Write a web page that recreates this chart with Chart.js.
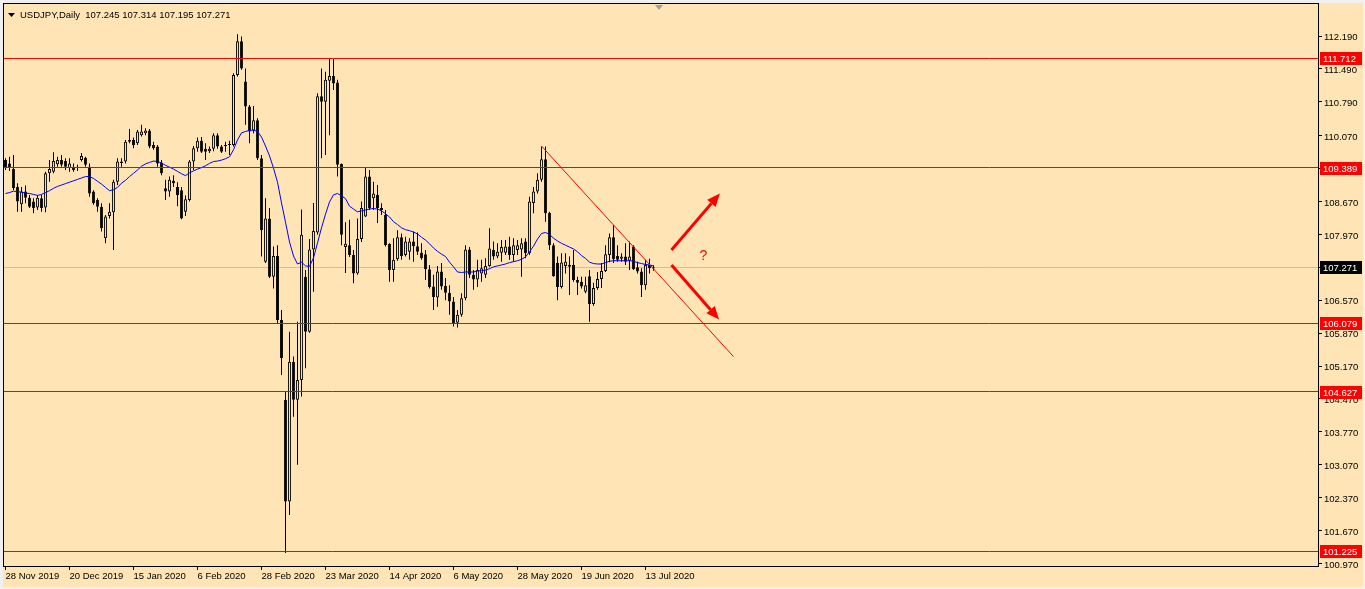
<!DOCTYPE html>
<html>
<head>
<meta charset="utf-8">
<title>USDJPY,Daily</title>
<script src="https://cdn.jsdelivr.net/npm/chart.js@4.4.1/dist/chart.umd.min.js"></script>
<style>
  html, body { margin: 0; padding: 0; background: #f0f0f0; }
  canvas { display: block; }
</style>
</head>
<body>
<canvas id="chart" width="1365" height="589"></canvas>
<script>
// daily bars, 28 Nov 2019 .. 15 Jul 2020
const opens = [
  109.55, 109.48, 109.36, 108.98, 108.61, 108.88, 108.75, 108.67, 108.54, 108.74,
  108.54, 109.27, 109.30, 109.46, 109.55, 109.53, 109.38, 109.41, 109.38, 109.55,
  109.60, 109.41, 108.88, 108.70, 108.56, 107.89, 108.36, 108.44, 109.09, 109.52,
  109.52, 109.94, 109.98, 109.91, 110.08, 110.12, 110.18, 109.87, 109.84, 109.50,
  108.95, 108.88, 109.11, 108.98, 108.91, 108.45, 108.70, 109.52, 109.80, 109.96,
  109.79, 109.74, 109.79, 110.08, 109.84, 109.87, 109.87, 109.87, 111.36, 112.08,
  111.22, 110.69, 110.18, 110.40, 109.59, 107.39, 108.31, 107.07, 107.51, 106.15,
  104.45, 102.29, 105.26, 104.45, 104.87, 107.07, 105.90, 107.65, 108.01, 110.91,
  110.79, 111.24, 111.34, 111.20, 109.47, 107.70, 107.74, 107.53, 107.14, 107.87,
  108.35, 109.20, 108.74, 108.81, 108.53, 108.38, 107.77, 107.21, 107.44, 107.91,
  107.53, 107.60, 107.82, 107.72, 107.58, 107.55, 107.23, 106.86, 106.63, 107.18,
  106.87, 106.73, 106.54, 106.09, 106.26, 106.61, 107.65, 107.11, 107.01, 107.14,
  107.11, 107.30, 107.64, 107.50, 107.58, 107.58, 107.71, 107.53, 107.64, 107.65,
  107.82, 107.57, 108.64, 108.88, 109.13, 109.57, 108.43, 107.74, 107.36, 106.85,
  107.30, 107.32, 107.32, 107.00, 106.96, 106.75, 107.08, 106.49, 106.83, 107.02,
  107.19, 107.53, 107.91, 107.51, 107.45, 107.50, 107.41, 107.71, 107.27, 107.18,
  106.89, 107.32, 107.245
];
const highs = [
  109.59, 109.62, 109.66, 109.06, 108.98, 109.01, 108.81, 108.74, 108.81, 108.81,
  109.30, 109.55, 109.72, 109.62, 109.66, 109.59, 109.59, 109.48, 109.45, 109.70,
  109.62, 109.48, 108.91, 108.74, 108.63, 108.38, 108.63, 109.13, 109.59, 109.59,
  109.98, 110.21, 110.03, 110.19, 110.30, 110.23, 110.21, 109.94, 109.87, 109.55,
  109.13, 109.20, 109.23, 109.08, 108.98, 108.80, 109.55, 109.85, 110.03, 110.04,
  109.91, 109.84, 110.12, 110.12, 109.87, 109.94, 109.96, 111.40, 112.23, 112.18,
  111.50, 110.72, 110.70, 110.44, 109.66, 108.74, 108.53, 107.71, 107.74, 106.36,
  104.62, 105.90, 105.37, 106.11, 108.50, 107.21, 107.87, 108.64, 110.97, 111.50,
  111.43, 111.70, 111.70, 111.26, 109.48, 108.23, 108.28, 107.64, 108.31, 108.67,
  109.38, 109.34, 109.09, 109.02, 108.63, 108.49, 107.78, 107.89, 108.06, 107.99,
  107.92, 107.89, 108.03, 108.01, 107.78, 107.64, 107.32, 107.11, 107.30, 107.36,
  107.04, 106.89, 106.64, 106.36, 106.72, 107.74, 107.70, 107.21, 107.43, 107.43,
  107.46, 108.10, 107.82, 107.78, 107.85, 107.85, 107.92, 107.89, 107.85, 107.89,
  107.89, 108.77, 108.98, 109.27, 109.84, 109.84, 108.45, 107.78, 107.50, 107.57,
  107.57, 107.50, 107.64, 107.07, 107.07, 107.07, 107.21, 106.94, 107.17, 107.36,
  107.74, 107.99, 108.17, 107.74, 107.57, 107.78, 107.82, 107.74, 107.39, 107.25,
  107.43, 107.45, 107.314
];
const lows = [
  109.34, 109.32, 108.91, 108.45, 108.45, 108.63, 108.53, 108.42, 108.49, 108.45,
  108.44, 109.09, 109.27, 109.41, 109.41, 109.34, 109.30, 109.30, 109.32, 109.52,
  109.41, 108.77, 108.60, 108.45, 108.03, 107.78, 108.31, 107.64, 109.02, 109.41,
  109.48, 109.91, 109.80, 109.87, 110.05, 110.08, 109.80, 109.77, 109.41, 109.23,
  108.70, 108.77, 108.98, 108.57, 108.29, 108.36, 108.67, 109.34, 109.73, 109.70,
  109.55, 109.70, 109.74, 109.79, 109.70, 109.73, 109.66, 109.84, 111.33, 111.47,
  110.30, 109.91, 110.12, 109.55, 107.50, 107.36, 107.04, 106.82, 106.08, 104.98,
  101.19, 102.00, 104.09, 103.07, 104.52, 105.12, 105.88, 106.75, 107.96, 109.59,
  109.66, 110.08, 111.04, 109.20, 107.74, 107.15, 107.49, 106.93, 107.11, 107.81,
  108.34, 108.49, 108.49, 108.21, 108.38, 107.71, 106.96, 106.96, 107.41, 107.43,
  107.50, 107.43, 107.39, 107.53, 107.43, 107.00, 106.82, 106.36, 106.43, 106.79,
  106.57, 106.26, 106.01, 105.99, 106.22, 106.57, 107.04, 106.79, 106.85, 106.96,
  107.04, 107.28, 107.43, 107.46, 107.39, 107.53, 107.43, 107.39, 107.53, 107.07,
  107.46, 107.53, 108.42, 108.84, 109.09, 108.24, 107.64, 107.07, 106.57, 106.82,
  107.14, 106.68, 106.96, 106.68, 106.82, 106.72, 106.11, 106.45, 106.79, 106.83,
  107.17, 107.38, 107.36, 107.39, 107.39, 107.32, 107.21, 107.21, 107.14, 106.64,
  106.79, 107.14, 107.195
];
const closes = [
  109.38, 109.38, 108.95, 108.67, 108.88, 108.75, 108.56, 108.53, 108.75, 108.53,
  109.27, 109.36, 109.53, 109.55, 109.45, 109.41, 109.48, 109.34, 109.39, 109.64,
  109.45, 108.84, 108.63, 108.56, 108.10, 108.35, 108.45, 109.09, 109.52, 109.49,
  109.94, 109.98, 109.87, 110.16, 110.16, 110.18, 109.84, 109.80, 109.48, 109.27,
  108.88, 109.13, 109.06, 108.81, 108.31, 108.72, 109.52, 109.80, 109.96, 109.73,
  109.73, 109.79, 110.08, 109.84, 109.73, 109.85, 109.88, 111.36, 112.08, 111.50,
  110.69, 110.16, 110.40, 109.59, 108.06, 108.31, 107.07, 107.51, 106.15, 105.34,
  102.29, 105.26, 104.45, 104.87, 107.96, 105.90, 107.65, 108.04, 110.91, 110.79,
  111.26, 111.34, 111.18, 109.45, 107.96, 107.77, 107.53, 107.14, 107.87, 108.53,
  109.20, 108.53, 108.84, 108.53, 108.49, 107.74, 107.21, 107.43, 107.91, 107.51,
  107.82, 107.82, 107.72, 107.60, 107.46, 107.23, 106.85, 106.64, 107.18, 106.86,
  106.73, 106.54, 106.08, 106.26, 106.61, 107.65, 107.11, 107.01, 107.21, 107.25,
  107.30, 107.67, 107.50, 107.60, 107.70, 107.71, 107.53, 107.74, 107.74, 107.78,
  107.57, 108.67, 108.88, 109.13, 109.57, 108.42, 107.74, 107.08, 106.85, 107.37,
  107.39, 107.28, 107.00, 106.94, 106.86, 106.89, 106.49, 106.83, 107.02, 107.19,
  107.55, 107.91, 107.44, 107.43, 107.50, 107.39, 107.50, 107.23, 107.18, 106.89,
  107.32, 107.25, 107.271
];
// moving average as drawn on the chart
const ma20 = [
  108.84, 108.86, 108.89, 108.88, 108.87, 108.85, 108.84, 108.82, 108.80, 108.82,
  108.86, 108.90, 108.95, 108.99, 109.02, 109.05, 109.08, 109.11, 109.14, 109.17,
  109.20, 109.20, 109.16, 109.10, 109.04, 108.97, 108.90, 108.92, 108.97, 109.06,
  109.12, 109.20, 109.27, 109.34, 109.42, 109.47, 109.50, 109.53, 109.52, 109.49,
  109.44, 109.40, 109.36, 109.31, 109.26, 109.22, 109.28, 109.32, 109.36, 109.39,
  109.43, 109.48, 109.52, 109.53, 109.55, 109.58, 109.62, 109.77, 109.98, 110.13,
  110.16, 110.18, 110.19, 110.16, 110.04, 109.85, 109.64, 109.38, 109.08, 108.64,
  108.23, 107.81, 107.51, 107.34, 107.38, 107.30, 107.29, 107.47, 107.79, 108.11,
  108.40, 108.66, 108.81, 108.84, 108.79, 108.73, 108.57, 108.51, 108.45, 108.47,
  108.49, 108.51, 108.52, 108.51, 108.47, 108.41, 108.34, 108.24, 108.18, 108.11,
  108.07, 108.05, 108.02, 107.98, 107.91, 107.85, 107.77, 107.68, 107.61, 107.55,
  107.50, 107.38, 107.28, 107.17, 107.16, 107.17, 107.17, 107.17, 107.19, 107.20,
  107.21, 107.24, 107.28, 107.30, 107.32, 107.34, 107.37, 107.39, 107.41, 107.44,
  107.49, 107.60, 107.72, 107.87, 107.99, 108.01, 107.97, 107.89, 107.83, 107.78,
  107.74, 107.70, 107.66, 107.60, 107.52, 107.46, 107.38, 107.35, 107.34, 107.34,
  107.37, 107.40, 107.41, 107.41, 107.41, 107.41, 107.41, 107.40, 107.37, 107.35,
  107.33, 107.32, 107.30
];

const symbol = "USDJPY";
const levels = [111.712, 109.389, 106.079, 104.627, 101.225];
const bidPrice = 107.271;
const yTickValues = [112.19, 111.49, 110.79, 110.07, 109.37, 108.67, 107.97, 107.27,
  106.57, 105.87, 105.17, 104.47, 103.77, 103.07, 102.37, 101.67, 100.97];
const xTickBars = [0, 16, 32, 48, 64, 80, 96, 112, 128, 144, 160];
const xTickLabels = ["28 Nov 2019", "20 Dec 2019", "15 Jan 2020", "6 Feb 2020", "28 Feb 2020",
  "23 Mar 2020", "14 Apr 2020", "6 May 2020", "28 May 2020", "19 Jun 2020", "13 Jul 2020"];

// drawn objects: [bar index, price]
const trendLine = [[134, 109.85], [182, 105.37]];
const arrows = [
  [[166.5, 107.64], [178.6, 108.84]],
  [[166.5, 107.32], [178.4, 106.16]]
];
const questionMark = [174.5, 107.50];

const BG = "#ffe4b5";
const FONT = "Liberation Sans, Arial, sans-serif";
const FONT_SIZE = 9.5;

const wicks = lows.map((l, i) => ({ x: i, y: [l, highs[i]] }));
const bodies = opens.map((o, i) => ({ x: i, y: [Math.min(o, closes[i]), Math.max(o, closes[i])] }));
const isUp = (i) => closes[i] >= opens[i];

function drawArrow(ctx, x1, y1, x2, y2) {
    const a = Math.atan2(y2 - y1, x2 - x1);
    const head = 13, half = 5.5;
    const bx = x2 - head * Math.cos(a), by = y2 - head * Math.sin(a);
    ctx.lineWidth = 3;
    ctx.beginPath();
    ctx.moveTo(x1, y1);
    ctx.lineTo(bx, by);
    ctx.stroke();
    ctx.beginPath();
    ctx.moveTo(x2, y2);
    ctx.lineTo(bx + half * Math.sin(a), by - half * Math.cos(a));
    ctx.lineTo(bx - half * Math.sin(a), by + half * Math.cos(a));
    ctx.closePath();
    ctx.fill();
}

const mt4Look = {
    id: "mt4Look",
    beforeDraw(chart) {
        const { ctx, width, height } = chart;
        ctx.save();
        ctx.fillStyle = "#f0f0f0";
        ctx.fillRect(0, 0, width, height);
        ctx.fillStyle = BG;
        ctx.fillRect(3, 3, width - 5, height - 5);
        ctx.restore();
    },
    beforeDatasetsDraw(chart) {
        const { ctx, chartArea } = chart;
        const y = Math.floor(chart.scales.y.getPixelForValue(bidPrice)) + 0.5;
        ctx.save();
        ctx.strokeStyle = "#c0c0c0";
        ctx.lineWidth = 1;
        ctx.beginPath();
        ctx.moveTo(chartArea.left, y);
        ctx.lineTo(chartArea.right, y);
        ctx.stroke();
        ctx.restore();
    },
    afterDatasetsDraw(chart) {
        const { ctx, chartArea } = chart;
        const xs = chart.scales.x, ys = chart.scales.y;
        ctx.save();
        ctx.beginPath();
        ctx.rect(chartArea.left, chartArea.top, chartArea.right - chartArea.left, chartArea.bottom - chartArea.top);
        ctx.clip();

        ctx.strokeStyle = "#ff0000";
        ctx.fillStyle = "#ff0000";
        ctx.lineWidth = 1;
        levels.forEach((v) => {
            const y = Math.floor(ys.getPixelForValue(v)) + 0.5;
            ctx.beginPath();
            ctx.moveTo(chartArea.left, y);
            ctx.lineTo(chartArea.right, y);
            ctx.stroke();
        });

        ctx.beginPath();
        ctx.moveTo(xs.getPixelForValue(trendLine[0][0]), ys.getPixelForValue(trendLine[0][1]));
        ctx.lineTo(xs.getPixelForValue(trendLine[1][0]), ys.getPixelForValue(trendLine[1][1]));
        ctx.stroke();

        arrows.forEach(([a, b]) => {
            drawArrow(ctx, xs.getPixelForValue(a[0]), ys.getPixelForValue(a[1]),
                xs.getPixelForValue(b[0]), ys.getPixelForValue(b[1]));
        });

        ctx.font = "14px " + FONT;
        ctx.textAlign = "center";
        ctx.textBaseline = "middle";
        ctx.fillText("?", xs.getPixelForValue(questionMark[0]), ys.getPixelForValue(questionMark[1]));
        ctx.restore();
    },
    afterDraw(chart) {
        const { ctx, chartArea } = chart;
        const xs = chart.scales.x, ys = chart.scales.y;
        ctx.save();
        // frame
        ctx.strokeStyle = "#000";
        ctx.lineWidth = 1;
        ctx.strokeRect(chartArea.left - 0.5, chartArea.top - 0.5,
            chartArea.right - chartArea.left + 1, chartArea.bottom - chartArea.top + 1);

        // price labels on the axis
        ctx.font = FONT_SIZE + "px " + FONT;
        ctx.textAlign = "left";
        ctx.textBaseline = "middle";
        const tag = (v, color) => {
            const y = Math.round(ys.getPixelForValue(v));
            ctx.fillStyle = color;
            ctx.fillRect(chartArea.right + 2, y - 6, 42, 13);
            ctx.fillStyle = "#fff";
            ctx.fillText(v.toFixed(3), chartArea.right + 5, y + 1);
        };
        levels.forEach((v) => tag(v, "#ff0000"));
        tag(bidPrice, "#000");

        // header
        const last = opens.length - 1;
        ctx.fillStyle = "#000";
        ctx.beginPath();
        ctx.moveTo(8, 13);
        ctx.lineTo(15, 13);
        ctx.lineTo(11.5, 17);
        ctx.closePath();
        ctx.fill();
        ctx.fillText(symbol + ",Daily  " + [opens[last], highs[last], lows[last], closes[last]]
            .map((v) => v.toFixed(3)).join(" "), 20, 15.5);

        // chart shift marker
        const sx = Math.round(xs.getPixelForValue(opens.length + 0.3));
        ctx.fillStyle = "#a0a0a0";
        ctx.beginPath();
        ctx.moveTo(sx - 4, chartArea.top + 1);
        ctx.lineTo(sx + 4, chartArea.top + 1);
        ctx.lineTo(sx, chartArea.top + 6);
        ctx.closePath();
        ctx.fill();
        ctx.restore();
    }
};

new Chart(document.getElementById("chart"), {
    type: "bar",
    data: {
        datasets: [
            {
                type: "line",
                label: "MA",
                data: ma20.map((v, i) => ({ x: i, y: v })),
                borderColor: "#0000ff",
                borderWidth: 1,
                pointRadius: 0,
                tension: 0,
                order: 0,
            },
            {
                label: "bodies",
                data: bodies,
                grouped: false,
                maxBarThickness: 3,
                minBarLength: 1,
                inflateAmount: 0,
                borderSkipped: false,
                borderWidth: 1,
                borderColor: "#000",
                backgroundColor: (c) => (isUp(c.dataIndex) ? "#ffffff" : "#000000"),
                order: 1,
            },
            {
                label: "wicks",
                data: wicks,
                grouped: false,
                maxBarThickness: 1,
                minBarLength: 1,
                inflateAmount: 0,
                borderWidth: 0,
                backgroundColor: "#000",
                order: 2,
            },
        ],
    },
    options: {
        responsive: false,
        animation: false,
        devicePixelRatio: 1,
        events: [],
        layout: { padding: { left: 4, top: 4, right: 0, bottom: 0 } },
        plugins: {
            legend: { display: false },
            tooltip: { enabled: false },
        },
        scales: {
            x: {
                type: "linear",
                position: "bottom",
                min: -0.375,
                max: 328.125,
                offset: false,
                grid: { offset: false, drawOnChartArea: false, drawTicks: true, tickLength: 4, color: "#000" },
                border: { display: false },
                ticks: {
                    align: "start",
                    autoSkip: false,
                    maxRotation: 0,
                    padding: 1,
                    color: "#000",
                    font: { family: FONT, size: FONT_SIZE },
                    callback: (v, i) => xTickLabels[i],
                },
                afterBuildTicks: (s) => { s.ticks = xTickBars.map((v) => ({ value: v })); },
                afterFit: (s) => { s.height = 23; s.paddingLeft = 0; s.paddingRight = 0; },
            },
            y: {
                type: "linear",
                position: "right",
                min: 100.916,
                max: 112.871,
                grid: { drawOnChartArea: false, drawTicks: true, tickLength: 4, color: "#000" },
                border: { display: false },
                ticks: {
                    autoSkip: false,
                    padding: 2,
                    labelOffset: 1.5,
                    color: "#000",
                    font: { family: FONT, size: FONT_SIZE },
                    callback: (v) => v.toFixed(3),
                },
                afterBuildTicks: (s) => { s.ticks = yTickValues.map((v) => ({ value: v })); },
                afterFit: (s) => { s.width = 47; s.paddingTop = 0; s.paddingBottom = 0; },
            },
        },
    },
    plugins: [mt4Look],
});
</script>
</body>
</html>
